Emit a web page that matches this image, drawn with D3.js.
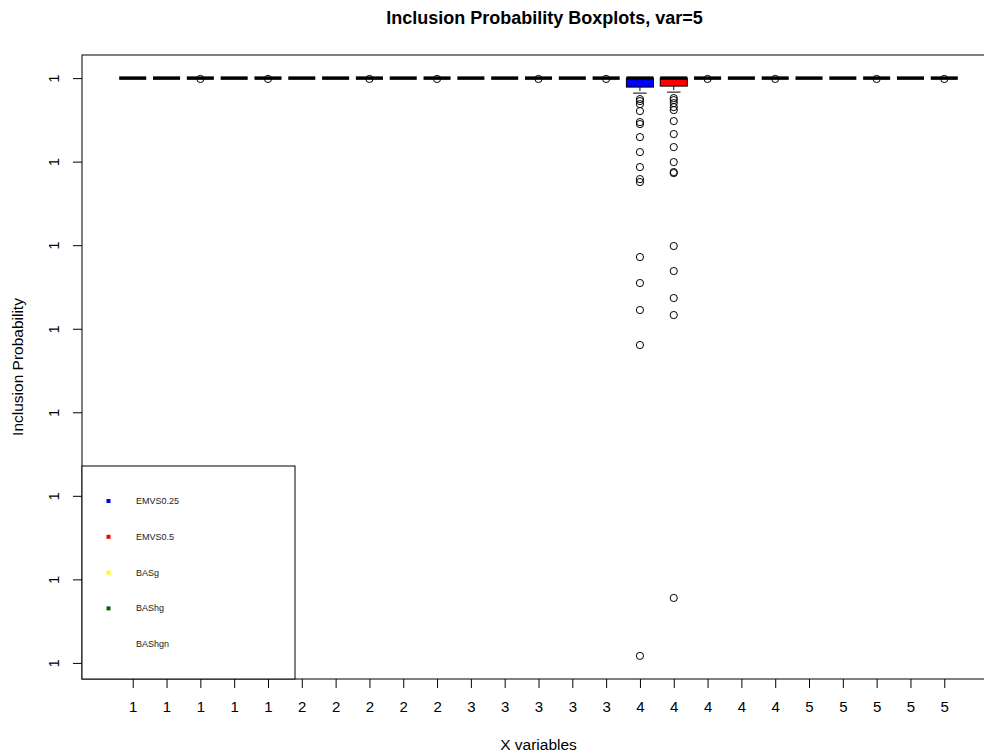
<!DOCTYPE html>
<html>
<head>
<meta charset="utf-8">
<script src="https://cdn.jsdelivr.net/npm/d3@7"></script>
<style>
  html, body { margin: 0; padding: 0; background: #fff; }
  svg { display: block; font-family: "Liberation Sans", Arial, Helvetica, sans-serif; }
</style>
</head>
<body>
<svg id="chart" width="984" height="754"></svg>
<script>
// Methods compared for each X variable
const methods = ["EMVS0.25", "EMVS0.5", "BASg", "BAShg", "BAShgn"];
const methodColors = ["#0000ff", "#ff0000", "#ffff00", "#006400", "#ffffff"];
const variables = [1, 2, 3, 4, 5];

// Box labels along the x axis (variable number for each of the 25 boxes)
const boxLabels = variables.flatMap(v => methods.map(() => String(v)));

// Boxplot statistics per box (variable-major order, 5 methods per variable)
const whiskerLow = [1, 1, 1, 1, 1,  1, 1, 1, 1, 1,  1, 1, 1, 1, 1,
  0.9999999999103, 0.9999999999162, 1, 1, 1,  1, 1, 1, 1, 1];
const quartile1 = [1, 1, 1, 1, 1,  1, 1, 1, 1, 1,  1, 1, 1, 1, 1,
  0.9999999999462, 0.9999999999521, 1, 1, 1,  1, 1, 1, 1, 1];
const medians = [1, 1, 1, 1, 1,  1, 1, 1, 1, 1,  1, 1, 1, 1, 1,
  1, 1, 1, 1, 1,  1, 1, 1, 1, 1];
const quartile3 = [1, 1, 1, 1, 1,  1, 1, 1, 1, 1,  1, 1, 1, 1, 1,
  1, 1, 1, 1, 1,  1, 1, 1, 1, 1];
const whiskerHigh = [1, 1, 1, 1, 1,  1, 1, 1, 1, 1,  1, 1, 1, 1, 1,
  1, 1, 1, 1, 1,  1, 1, 1, 1, 1];

// Outlying inclusion probabilities
const outliersEMVS025var4 = [
  0.9999999998744, 0.9999999998624, 0.9999999998444, 0.9999999998026,
  0.9999999997367, 0.9999999997248, 0.9999999996470, 0.9999999995573,
  0.9999999994675, 0.9999999993957, 0.9999999993778, 0.9999999989290,
  0.9999999987735, 0.9999999986120, 0.9999999984025, 0.9999999965420
];
const outliersEMVS05var4 = [
  0.9999999998803, 0.9999999998684, 0.9999999998504, 0.9999999998265,
  0.9999999998085, 0.9999999997427, 0.9999999996650, 0.9999999995872,
  0.9999999994974, 0.9999999994376, 0.9999999994316, 0.9999999989948,
  0.9999999988453, 0.9999999986837, 0.9999999985820, 0.9999999968888
];
const outliersNearOne = [0.999999999995];
const outliers = [
  [], [], outliersNearOne, [], outliersNearOne,
  [], [], outliersNearOne, [], outliersNearOne,
  [], [], outliersNearOne, [], outliersNearOne,
  outliersEMVS025var4, outliersEMVS05var4, outliersNearOne, [], outliersNearOne,
  [], [], outliersNearOne, [], outliersNearOne
];

// Y axis tick values
const yTicks = [1, 0.9999999995, 0.999999999, 0.9999999985, 0.999999998,
  0.9999999975, 0.999999997, 0.9999999965];

const svg = d3.select("#chart");
const plot = { left: 82, top: 55, bottom: 679 };

// x: box positions 1..25, padded like base-graphics boxplots
const nBoxes = boxLabels.length;
const xPad = 0.04 * nBoxes;
const x = d3.scaleLinear()
  .domain([0.5 - xPad, nBoxes + 0.5 + xPad])
  .range([plot.left, 995]);

// y: data range extended by 4% on each side
const allValues = [...whiskerLow, ...whiskerHigh, ...outliers.flat()];
const yMin = d3.min(allValues), yMax = d3.max(allValues);
const yExt = 0.04 * (yMax - yMin);
const y = d3.scaleLinear()
  .domain([yMin - yExt, yMax + yExt])
  .range([plot.bottom, plot.top]);

const boxWidth = (x(2) - x(1)) * 0.8;
const centerX = (x.range()[0] + x.range()[1]) / 2;

// Title and axis titles
svg.append("text")
  .attr("x", centerX + 6).attr("y", 24)
  .attr("text-anchor", "middle").attr("font-size", 18).attr("font-weight", "bold")
  .text("Inclusion Probability Boxplots, var=5");
svg.append("text")
  .attr("x", centerX).attr("y", 750)
  .attr("text-anchor", "middle").attr("font-size", 15.5)
  .text("X variables");
svg.append("text")
  .attr("transform", `translate(23,${(plot.top + plot.bottom) / 2}) rotate(-90)`)
  .attr("text-anchor", "middle").attr("font-size", 15.5)
  .text("Inclusion Probability");

// Boxes
const boxes = svg.append("g").selectAll("g").data(d3.range(nBoxes)).join("g");
boxes.each(function (i) {
  const g = d3.select(this);
  const cx = x(i + 1);
  const col = methodColors[i % methods.length];
  // whiskers (dashed) and staples
  if (whiskerLow[i] < quartile1[i]) {
    g.append("line").attr("x1", cx).attr("x2", cx)
      .attr("y1", y(quartile1[i])).attr("y2", y(whiskerLow[i]))
      .attr("stroke", "#000").attr("stroke-dasharray", "4,4");
    g.append("line").attr("x1", cx - boxWidth / 4).attr("x2", cx + boxWidth / 4)
      .attr("y1", y(whiskerLow[i])).attr("y2", y(whiskerLow[i]))
      .attr("stroke", "#000");
  }
  if (whiskerHigh[i] > quartile3[i]) {
    g.append("line").attr("x1", cx).attr("x2", cx)
      .attr("y1", y(quartile3[i])).attr("y2", y(whiskerHigh[i]))
      .attr("stroke", "#000").attr("stroke-dasharray", "4,4");
    g.append("line").attr("x1", cx - boxWidth / 4).attr("x2", cx + boxWidth / 4)
      .attr("y1", y(whiskerHigh[i])).attr("y2", y(whiskerHigh[i]))
      .attr("stroke", "#000");
  }
  // box
  g.append("rect")
    .attr("x", cx - boxWidth / 2).attr("width", boxWidth)
    .attr("y", y(quartile3[i])).attr("height", y(quartile1[i]) - y(quartile3[i]))
    .attr("fill", col).attr("stroke", "#000").attr("stroke-width", 1);
  // median
  g.append("line")
    .attr("x1", cx - boxWidth / 2).attr("x2", cx + boxWidth / 2)
    .attr("y1", y(medians[i])).attr("y2", y(medians[i]))
    .attr("stroke", "#000").attr("stroke-width", 3.5);
  // outliers
  g.selectAll("circle").data(outliers[i]).join("circle")
    .attr("cx", cx).attr("cy", d => y(d)).attr("r", 3.6)
    .attr("fill", "none").attr("stroke", "#000").attr("stroke-width", 1);
});

// Axes
const yAxis = d3.axisLeft(y).tickValues(yTicks).tickSize(9)
  .tickFormat(d3.format(".7~g"));
const yG = svg.append("g").attr("transform", `translate(${plot.left},0)`).call(yAxis);
yG.select(".domain").remove();
yG.selectAll(".tick text")
  .attr("font-size", 15).attr("font-family", null)
  .attr("x", null).attr("dy", null)
  .attr("text-anchor", "middle")
  .attr("transform", "translate(-28,0) rotate(-90)")
  .attr("dy", "0.35em");

const xAxis = d3.axisBottom(x).tickValues(d3.range(1, nBoxes + 1)).tickSize(9)
  .tickFormat(d => boxLabels[d - 1]);
const xG = svg.append("g").attr("transform", `translate(0,${plot.bottom})`).call(xAxis);
xG.select(".domain").remove();
xG.selectAll(".tick text").attr("font-size", 15).attr("font-family", null).attr("y", 22);

// Plot frame
svg.append("rect")
  .attr("x", plot.left).attr("y", plot.top)
  .attr("width", x.range()[1] - plot.left).attr("height", plot.bottom - plot.top)
  .attr("fill", "none").attr("stroke", "#000").attr("stroke-width", 1);

// Legend, clipped to the plot region
const legend = svg.append("g");
legend.append("rect")
  .attr("x", plot.left).attr("y", 466).attr("width", 213).attr("height", plot.bottom - 466)
  .attr("fill", "#fff").attr("stroke", "#000").attr("stroke-width", 1);
const legItems = legend.selectAll("g.item").data(methods).join("g")
  .attr("class", "item")
  .attr("transform", (d, i) => `translate(0,${501 + i * 35.8})`);
legItems.append("rect")
  .attr("x", 106.5).attr("y", -2).attr("width", 4).attr("height", 4)
  .attr("fill", (d, i) => methodColors[i]);
legItems.append("text")
  .attr("x", 136).attr("y", 3).attr("font-size", 9).attr("fill", "#222")
  .text(d => d);
</script>
</body>
</html>
